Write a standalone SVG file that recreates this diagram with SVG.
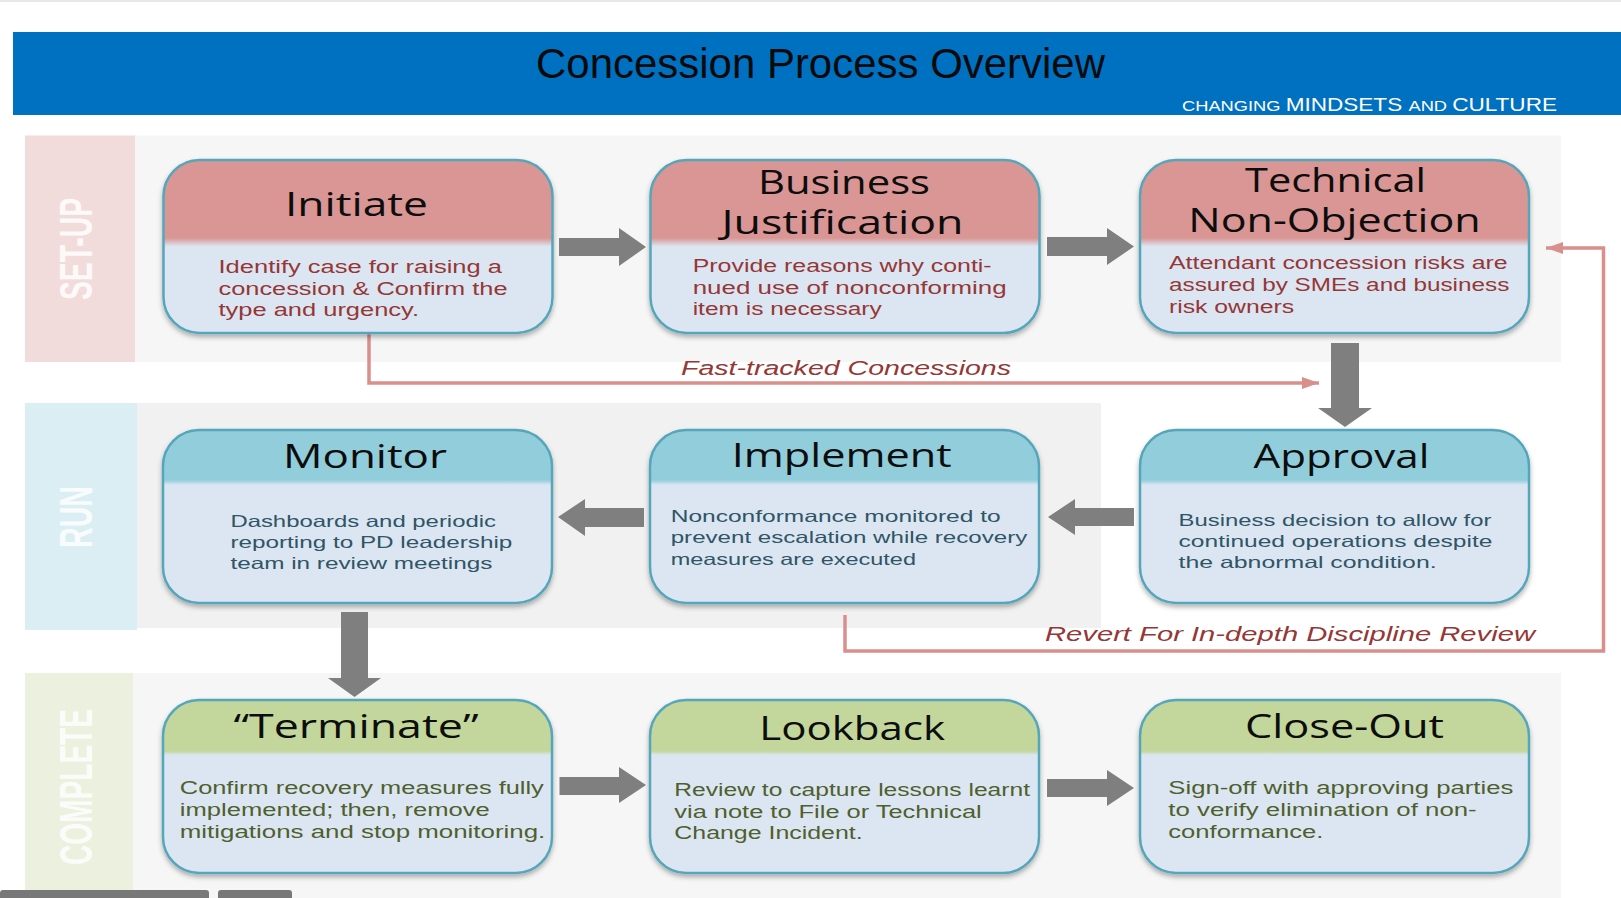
<svg xmlns="http://www.w3.org/2000/svg" width="1621" height="898" viewBox="0 0 1621 898">
<style>
.lanebg{stroke:none}
.lanelbl{font-family:"Liberation Sans",Arial,sans-serif;font-weight:bold;font-size:46px;fill:#ffffff;fill-opacity:0.85;text-anchor:middle}
.box{stroke:#55a6ba;stroke-width:2.5}
.title{font-family:"Open Sans","Liberation Sans",sans-serif;font-size:32px;fill:#0d0d0d}
.b1{font-family:"Liberation Sans",Arial,sans-serif;font-size:17.5px;fill:#953735}
.b2{font-family:"Liberation Sans",Arial,sans-serif;font-size:16.5px;fill:#2f5566}
.b3{font-family:"Liberation Sans",Arial,sans-serif;font-size:17.5px;fill:#4f5f2e}
.blk{fill:#7f7f7f;stroke:none}
.pk{fill:none;stroke:#d98f8c;stroke-width:3.5}
.pklbl{font-family:"Liberation Sans",Arial,sans-serif;font-style:italic;font-size:20.5px;fill:#953735}
</style>
<defs>
<linearGradient id="gRed" x1="0" y1="0" x2="0" y2="1">
<stop offset="0" stop-color="#d99694"/><stop offset="0.451" stop-color="#d99694"/><stop offset="0.50" stop-color="#dce6f2"/><stop offset="1" stop-color="#dce6f2"/>
</linearGradient>
<linearGradient id="gBlue" x1="0" y1="0" x2="0" y2="1">
<stop offset="0" stop-color="#92cddc"/><stop offset="0.289" stop-color="#92cddc"/><stop offset="0.318" stop-color="#dce6f2"/><stop offset="1" stop-color="#dce6f2"/>
</linearGradient>
<linearGradient id="gGreen" x1="0" y1="0" x2="0" y2="1">
<stop offset="0" stop-color="#c3d69b"/><stop offset="0.295" stop-color="#c3d69b"/><stop offset="0.318" stop-color="#dce6f2"/><stop offset="1" stop-color="#dce6f2"/>
</linearGradient>
<filter id="sh" x="-5%" y="-5%" width="110%" height="115%">
<feDropShadow dx="0" dy="3" stdDeviation="2.5" flood-color="#000" flood-opacity="0.3"/>
</filter>
<marker id="pkArrow" markerUnits="userSpaceOnUse" markerWidth="18" markerHeight="12" refX="17" refY="6" orient="auto">
<path d="M0,0 L17,6 L0,12 z" fill="#d98f8c"/>
</marker>
</defs>

<rect x="0" y="0" width="1621" height="898" fill="#ffffff"/>
<rect x="0" y="0" width="1621" height="2" fill="#e8e8e8"/>

<g id="header">
<rect x="13" y="32" width="1608" height="83" fill="#0070c0"/>
<text x="536" y="78" textLength="569" lengthAdjust="spacingAndGlyphs" style="font-family:'Liberation Sans',Arial,sans-serif;font-size:42px;fill:#0a0a0a">Concession Process Overview</text>
<text x="1182" y="111" textLength="375" lengthAdjust="spacingAndGlyphs" style="font-family:'Liberation Sans',Arial,sans-serif;fill:#ffffff"><tspan font-size="15">CHANGING </tspan><tspan font-size="18.5">MINDSETS </tspan><tspan font-size="15">AND </tspan><tspan font-size="18.5">CULTURE</tspan></text>
</g>

<g id="lanes">
<rect class="lanebg" x="135" y="135.5" width="1426" height="226.5" fill="#f6f6f6"/>
<rect class="lanebg" x="25" y="135.5" width="110" height="226.5" fill="#f2dcdb"/>
<text class="lanelbl" transform="translate(92,249) rotate(-90)" x="0" y="0" textLength="102" lengthAdjust="spacingAndGlyphs">SET-UP</text>

<rect class="lanebg" x="137" y="403" width="964" height="225" fill="#f1f1f1"/>
<rect class="lanebg" x="25" y="403" width="112" height="227" fill="#dbeef3"/>
<text class="lanelbl" transform="translate(92,517) rotate(-90)" x="0" y="0" textLength="62" lengthAdjust="spacingAndGlyphs">RUN</text>

<rect class="lanebg" x="133" y="673" width="1428" height="225" fill="#f6f6f6"/>
<rect class="lanebg" x="25" y="673" width="108" height="225" fill="#ebf1de"/>
<text class="lanelbl" transform="translate(92,787) rotate(-90)" x="0" y="0" textLength="156" lengthAdjust="spacingAndGlyphs">COMPLETE</text>
</g>

<g id="connectors">
<polygon class="blk" points="559,238 619,238 619,228 646,247 619,266 619,256 559,256"/>
<polygon class="blk" points="1047,237 1107,237 1107,228 1134,246.5 1107,265 1107,256 1047,256"/>
<polygon class="blk" points="1331,343 1359,343 1359,408 1372,408 1345,427 1318,408 1331,408"/>
<polygon class="blk" points="1134,508 1075,508 1075,499 1048,517 1075,535 1075,526 1134,526"/>
<polygon class="blk" points="644,508 585,508 585,499 558,517 585,536 585,527 644,527"/>
<polygon class="blk" points="341,612 368,612 368,678 381,678 354.5,697 328,678 341,678"/>
<polygon class="blk" points="559.5,777 619,777 619,767 646,785 619,803 619,795 559.5,795"/>
<polygon class="blk" points="1047,779 1107,779 1107,770 1134,788 1107,806 1107,797 1047,797"/>
<path class="pk" d="M369,333 V383 H1319" marker-end="url(#pkArrow)"/>
<text class="pklbl" x="681" y="375" textLength="330" lengthAdjust="spacingAndGlyphs">Fast-tracked Concessions</text>
<path class="pk" d="M845,615 V651 H1603.5 V248 H1546" marker-end="url(#pkArrow)"/>
<text class="pklbl" x="1045" y="641" textLength="490" lengthAdjust="spacingAndGlyphs">Revert For In-depth Discipline Review</text>
</g>

<g id="node-initiate">
<rect class="box" x="163.5" y="160" width="389" height="173" rx="36" fill="url(#gRed)" filter="url(#sh)"/>
<text class="title" x="285" y="216" textLength="143" lengthAdjust="spacingAndGlyphs">Initiate</text>
<text class="b1" x="218.5" y="273" textLength="283.5" lengthAdjust="spacingAndGlyphs">Identify case for raising a</text>
<text class="b1" x="218.5" y="295" textLength="289" lengthAdjust="spacingAndGlyphs">concession &amp; Confirm the</text>
<text class="b1" x="218.5" y="316" textLength="200.5" lengthAdjust="spacingAndGlyphs">type and urgency.</text>
</g>

<g id="node-business-justification">
<rect class="box" x="650.5" y="160" width="389" height="173" rx="36" fill="url(#gRed)" filter="url(#sh)"/>
<text class="title" x="758" y="194" textLength="172" lengthAdjust="spacingAndGlyphs">Business</text>
<text class="title" x="721.5" y="234" textLength="242" lengthAdjust="spacingAndGlyphs">Justification</text>
<text class="b1" x="692.7" y="272" textLength="299" lengthAdjust="spacingAndGlyphs">Provide reasons why conti-</text>
<text class="b1" x="692.7" y="293.5" textLength="314" lengthAdjust="spacingAndGlyphs">nued use of nonconforming</text>
<text class="b1" x="692.7" y="315" textLength="189" lengthAdjust="spacingAndGlyphs">item is necessary</text>
</g>

<g id="node-technical-non-objection">
<rect class="box" x="1140" y="160" width="389" height="173" rx="36" fill="url(#gRed)" filter="url(#sh)"/>
<text class="title" x="1245" y="192.3" textLength="181" lengthAdjust="spacingAndGlyphs">Technical</text>
<text class="title" x="1188.3" y="232.3" textLength="292.4" lengthAdjust="spacingAndGlyphs">Non-Objection</text>
<text class="b1" x="1169" y="269.3" textLength="338.7" lengthAdjust="spacingAndGlyphs">Attendant concession risks are</text>
<text class="b1" x="1169" y="291" textLength="340.3" lengthAdjust="spacingAndGlyphs">assured by SMEs and business</text>
<text class="b1" x="1169" y="313.3" textLength="125" lengthAdjust="spacingAndGlyphs">risk owners</text>
</g>

<g id="node-monitor">
<rect class="box" x="163" y="430" width="389" height="173" rx="36" fill="url(#gBlue)" filter="url(#sh)"/>
<text class="title" x="283" y="468" textLength="164" lengthAdjust="spacingAndGlyphs">Monitor</text>
<text class="b2" x="230.4" y="526.7" textLength="265.6" lengthAdjust="spacingAndGlyphs">Dashboards and periodic</text>
<text class="b2" x="230.4" y="548.3" textLength="282" lengthAdjust="spacingAndGlyphs">reporting to PD leadership</text>
<text class="b2" x="230.4" y="569.3" textLength="262" lengthAdjust="spacingAndGlyphs">team in review meetings</text>
</g>

<g id="node-implement">
<rect class="box" x="650" y="430" width="389" height="173" rx="36" fill="url(#gBlue)" filter="url(#sh)"/>
<text class="title" x="731.7" y="467" textLength="220" lengthAdjust="spacingAndGlyphs">Implement</text>
<text class="b2" x="670.7" y="521.7" textLength="330" lengthAdjust="spacingAndGlyphs">Nonconformance monitored to</text>
<text class="b2" x="670.7" y="543.3" textLength="356.6" lengthAdjust="spacingAndGlyphs">prevent escalation while recovery</text>
<text class="b2" x="670.7" y="565" textLength="245.3" lengthAdjust="spacingAndGlyphs">measures are executed</text>
</g>

<g id="node-approval">
<rect class="box" x="1140" y="430" width="389" height="173" rx="36" fill="url(#gBlue)" filter="url(#sh)"/>
<text class="title" x="1253.6" y="468" textLength="175.8" lengthAdjust="spacingAndGlyphs">Approval</text>
<text class="b2" x="1178.6" y="525.7" textLength="312.8" lengthAdjust="spacingAndGlyphs">Business decision to allow for</text>
<text class="b2" x="1178.6" y="546.7" textLength="313.8" lengthAdjust="spacingAndGlyphs">continued operations despite</text>
<text class="b2" x="1178.6" y="568.3" textLength="258" lengthAdjust="spacingAndGlyphs">the abnormal condition.</text>
</g>

<g id="node-terminate">
<rect class="box" x="163" y="700" width="389" height="173" rx="36" fill="url(#gGreen)" filter="url(#sh)"/>
<text class="title" x="233.5" y="738.3" textLength="245" lengthAdjust="spacingAndGlyphs">“Terminate”</text>
<text class="b3" x="179.8" y="794.3" textLength="364" lengthAdjust="spacingAndGlyphs">Confirm recovery measures fully</text>
<text class="b3" x="179.8" y="816" textLength="310" lengthAdjust="spacingAndGlyphs">implemented; then, remove</text>
<text class="b3" x="179.8" y="837.7" textLength="365.5" lengthAdjust="spacingAndGlyphs">mitigations and stop monitoring.</text>
</g>

<g id="node-lookback">
<rect class="box" x="650" y="700" width="389" height="173" rx="36" fill="url(#gGreen)" filter="url(#sh)"/>
<text class="title" x="759.3" y="740" textLength="185.7" lengthAdjust="spacingAndGlyphs">Lookback</text>
<text class="b3" x="674.3" y="796" textLength="355.7" lengthAdjust="spacingAndGlyphs">Review to capture lessons learnt</text>
<text class="b3" x="674.3" y="817.7" textLength="307.4" lengthAdjust="spacingAndGlyphs">via note to File or Technical</text>
<text class="b3" x="674.3" y="839.3" textLength="188.4" lengthAdjust="spacingAndGlyphs">Change Incident.</text>
</g>

<g id="node-close-out">
<rect class="box" x="1140" y="700" width="389" height="173" rx="36" fill="url(#gGreen)" filter="url(#sh)"/>
<text class="title" x="1245" y="738.3" textLength="199" lengthAdjust="spacingAndGlyphs">Close-Out</text>
<text class="b3" x="1168.3" y="794" textLength="345" lengthAdjust="spacingAndGlyphs">Sign-off with approving parties</text>
<text class="b3" x="1168.3" y="816" textLength="308.4" lengthAdjust="spacingAndGlyphs">to verify elimination of non-</text>
<text class="b3" x="1168.3" y="838.3" textLength="155" lengthAdjust="spacingAndGlyphs">conformance.</text>
</g>

<g id="player-bar">
<rect x="0" y="890" width="209" height="10" rx="3" fill="#787878"/>
<rect x="218" y="890" width="74" height="10" rx="3" fill="#787878"/>
</g>
</svg>
